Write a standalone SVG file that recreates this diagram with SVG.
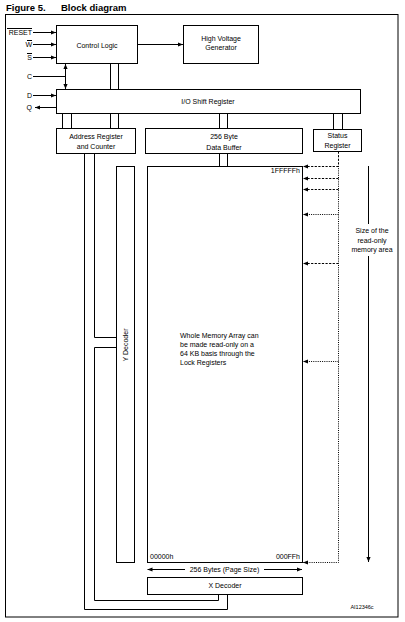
<svg xmlns="http://www.w3.org/2000/svg" width="405" height="622" viewBox="0 0 405 622">
<style>
.b{fill:#fff;stroke:#000;stroke-width:1}
.l{fill:none;stroke:#000;stroke-width:1}
.d{fill:none;stroke:#000;stroke-width:1;stroke-dasharray:2.2,1.4}
.o{fill:none;stroke:#000;stroke-width:1;stroke-dasharray:1,1.2}
text{font-family:"Liberation Sans",Arial,sans-serif;font-size:7px;fill:#000}
.c{text-anchor:middle}
.r{text-anchor:end}
.t{font-size:9.5px;font-weight:bold}
</style>
<defs>
<marker id="a" viewBox="0 0 6 6" refX="6" refY="3" markerWidth="5" markerHeight="5" markerUnits="userSpaceOnUse" orient="auto"><path d="M0,0.5L6,3L0,5.5z" fill="#000"/></marker>
<marker id="s" viewBox="0 0 6 6" refX="0" refY="3" markerWidth="5" markerHeight="5" markerUnits="userSpaceOnUse" orient="auto"><path d="M6,0.5L0,3L6,5.5z" fill="#000"/></marker>
</defs>
<rect width="405" height="622" fill="#fff"/>
<text x="6" y="11" class="t">Figure 5.</text>
<text x="61" y="11" class="t">Block diagram</text>
<rect x="5.5" y="14.5" width="392.5" height="602.5" class="l"/>

<g id="control-logic"><rect x="56.5" y="25.5" width="81" height="38" class="b"/><text x="97" y="47.5" class="c">Control Logic</text></g>
<g id="hv-generator"><rect x="183.5" y="25.5" width="75" height="38" class="b"/><text x="221" y="41" class="c">High Voltage</text><text x="221" y="50" class="c">Generator</text></g>
<g id="io-shift"><rect x="56.5" y="89.5" width="304" height="24" class="b"/><text x="208" y="104" class="c">I/O Shift Register</text></g>
<g id="address-register"><rect x="56.5" y="128.5" width="79" height="25" class="b"/><text x="96" y="139" class="c">Address Register</text><text x="96" y="149" class="c">and Counter</text></g>
<g id="data-buffer"><rect x="145.5" y="128.5" width="157" height="25" class="b"/><text x="224" y="139" class="c">256 Byte</text><text x="224" y="150" class="c">Data Buffer</text></g>
<g id="status-register"><rect x="313.5" y="129.5" width="48" height="22" class="b"/><text x="337.5" y="138" class="c">Status</text><text x="337.5" y="148" class="c">Register</text></g>
<g id="memory-array"><rect x="147.5" y="166.5" width="155" height="396" class="b"/>
<text x="300" y="172.5" class="r">1FFFFFh</text>
<text x="180" y="338">Whole Memory Array can</text>
<text x="180" y="347">be made read-only on a</text>
<text x="180" y="356">64 KB basis through the</text>
<text x="180" y="365">Lock Registers</text>
<text x="150" y="558.5">00000h</text>
<text x="300" y="558.5" class="r">000FFh</text></g>
<g id="y-decoder"><rect x="116.5" y="166.5" width="18" height="396" class="b"/><text transform="translate(127.5,345) rotate(-90)" class="c">Y Decoder</text></g>
<g id="x-decoder"><rect x="147.5" y="577.5" width="155" height="17" class="b"/><text x="225" y="588" class="c">X Decoder</text></g>

<g id="labels">
<text x="32" y="34.5" class="r">RESET</text>
<text x="32" y="46.5" class="r">W</text>
<text x="32" y="59.5" class="r">S</text>
<text x="32" y="78.5" class="r">C</text>
<text x="32" y="97.5" class="r">D</text>
<text x="32" y="109.5" class="r">Q</text>
<text x="372" y="233" class="c">Size of the</text>
<text x="372" y="242.5" class="c">read-only</text>
<text x="372" y="252" class="c">memory area</text>
<text x="224.5" y="572" class="c">256 Bytes (Page Size)</text>
<text x="362" y="609" class="c" style="font-size:5.5px">AI12346c</text>
</g>

<g id="connectors">
<path d="M7,28.5H32M27,40.5H32M27,53.5H32" class="l" stroke-width="0.8"/>
<path d="M33,32.5H56" class="l" marker-end="url(#a)"/>
<path d="M33,44.5H56" class="l" marker-end="url(#a)"/>
<path d="M33,57.5H56" class="l" marker-end="url(#a)"/>
<path d="M33,76.5H65.5" class="l"/>
<path d="M65.5,64V89" class="l" marker-start="url(#s)" marker-end="url(#a)"/>
<path d="M33,95.5H56" class="l" marker-end="url(#a)"/>
<path d="M56,107.5H35" class="l" marker-end="url(#a)"/>
<path d="M137.5,44.5H183" class="l" marker-end="url(#a)"/>
<path d="M110.5,63.5V89.5M118.5,63.5V89.5" class="l"/>
<path d="M62.5,113.5V128.5M71.5,113.5V128.5M110.5,113.5V128.5M118.5,113.5V128.5M219.5,113.5V128.5M227.5,113.5V128.5M333.5,113.5V129.5M342.5,113.5V129.5" class="l"/>
<path d="M219.5,153.5V166.5M227.5,153.5V166.5" class="l"/>
<path d="M94.5,153.5V337.5H116.5M116.5,347.5H94.5V600.5H218.5V594.5" class="l"/>
<path d="M84.5,153.5V609.5H227.5V594.5" class="l"/>
<path d="M185,569.5H147.5" class="l" marker-end="url(#a)"/>
<path d="M264,569.5H302" class="l" marker-end="url(#a)"/>
<path d="M338.5,151.5V166" class="d"/>
<path d="M338.5,166.5H303" class="d" marker-end="url(#a)"/>
<path d="M338.5,178.5H303" class="d" marker-end="url(#a)"/>
<path d="M338.5,189.5H303" class="d" marker-end="url(#a)"/>
<path d="M338.5,214.5H303" class="o" marker-end="url(#a)"/>
<path d="M338.5,263.5H303" class="d" marker-end="url(#a)"/>
<path d="M338.5,361.5H303" class="o" marker-end="url(#a)"/>
<path d="M338.5,166V562.5H303" class="o" marker-end="url(#a)"/>
<path d="M368.5,166V224" class="l"/>
<path d="M368.5,256V562" class="l" marker-end="url(#a)"/>
</g>
</svg>
